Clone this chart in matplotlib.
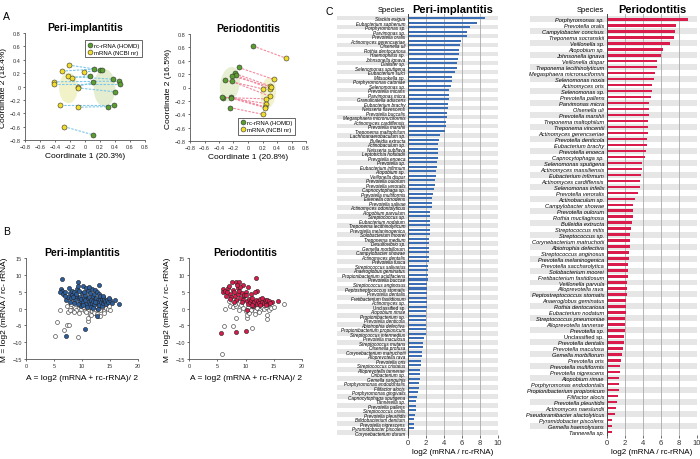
import matplotlib
matplotlib.use("Agg")
import matplotlib.pyplot as plt
import matplotlib.transforms as mtransforms
from matplotlib.patches import Ellipse, Rectangle
from matplotlib.lines import Line2D
import numpy as np

plt.rcParams["font.family"] = ["Liberation Sans", "DejaVu Sans"]

W, H = 700, 460

# ---------------- panel A: PCoA coordinates ----------------
peri_mrna = [(-0.22, 0.32), (-0.31, 0.23), (-0.01, 0.22), (-0.23, 0.15), (-0.18, 0.13),
             (-0.42, 0.07), (-0.42, 0.03), (-0.10, 0.00), (-0.10, -0.02), (-0.33, -0.27),
             (-0.10, -0.31), (-0.28, -0.60)]
peri_rrna = [(0.20, 0.25), (0.12, 0.26), (0.23, 0.24), (0.37, 0.11), (0.06, 0.16),
             (0.45, 0.08), (0.47, 0.03), (0.10, 0.06), (0.40, -0.08), (0.38, -0.27),
             (0.30, -0.30), (0.10, -0.72)]
perio_rrna = [(0.07, 0.62), (-0.13, 0.30), (-0.18, 0.21), (-0.16, 0.18), (-0.22, 0.17),
              (-0.32, 0.11), (-0.22, 0.09), (-0.34, -0.15), (-0.36, -0.14), (-0.24, -0.14),
              (-0.24, -0.16), (-0.25, -0.30)]
perio_mrna = [(0.52, 0.44), (0.36, 0.12), (0.31, 0.02), (0.30, -0.02), (0.32, 0.01),
              (0.20, -0.02), (0.30, -0.13), (0.25, -0.17), (0.25, -0.24), (0.24, -0.29),
              (0.23, -0.30), (0.20, -0.40)]

# ---------------- panel B: MA plot points ----------------
peri_sig = [(6.5, 8.8), (9.3, 7.8), (10.1, 6.7), (13.1, 7.0), (6.2, 5.9), (6.4, 5.3), (6.1, 4.8),
            (6.6, 4.4), (7.0, 5.0), (7.6, 6.0), (7.2, 2.4), (7.5, 3.3), (7.8, 4.6), (8.2, 5.3),
            (8.3, 4.0), (8.5, 4.9), (8.0, 3.0), (8.7, 2.5), (8.9, 3.6), (9.0, 4.3), (9.1, 5.7),
            (9.2, 6.6), (9.4, 3.0), (9.6, 3.4), (9.7, 2.2), (9.9, 2.7), (10.0, 4.6), (10.2, 1.8),
            (10.3, 3.2), (10.5, 4.0), (10.6, 2.4), (10.7, 6.0), (10.8, 1.4), (11.0, 5.2), (11.1, 3.0),
            (11.2, 2.0), (11.3, 3.4), (11.4, 1.2), (11.5, 4.5), (11.6, 2.6), (11.7, 5.8), (11.8, 1.6),
            (11.9, 3.8), (12.0, 2.2), (12.1, 4.3), (12.2, 0.9), (12.3, 5.6), (12.4, 2.9), (12.5, 3.2),
            (12.6, 5.0), (12.7, 1.5), (12.8, 2.4), (12.9, 2.0), (13.0, 4.2), (13.1, 1.0), (13.2, 3.8),
            (13.3, 2.6), (13.4, 1.8), (13.5, 2.8), (13.6, 0.6), (13.7, 3.3), (13.8, 1.6), (13.9, 2.2),
            (14.0, 2.9), (14.1, 2.3), (14.3, 1.4), (14.5, 2.6), (14.7, 1.9), (15.0, 2.4), (15.3, 1.5),
            (15.9, 2.5), (16.6, 1.2), (12.6, -2.2), (10.5, -6.1), (7.2, -8.2), (10.9, 0.3), (11.6, 0.5),
            (9.8, 0.8), (8.6, 1.6), (7.9, 2.0), (10.4, 5.0), (11.9, 0.2), (12.9, -0.2), (9.2, 1.2),
            (13.8, 3.8), (14.8, 3.0), (11.3, 6.4), (10.1, 1.0), (12.4, 1.8), (8.4, 3.3), (9.5, 5.2),
            (6.9, 3.8)]
peri_ns = [(5.2, -8.1), (9.2, -8.4), (5.5, -3.9), (6.7, -6.3), (7.3, -5.0), (7.7, -5.0), (6.1, -0.3),
           (7.5, -0.9), (9.5, -1.2), (11.1, -3.7), (11.1, -2.8), (11.4, -1.6), (12.9, -2.2), (13.2, -2.2),
           (7.9, 0.5), (8.3, -0.3), (8.8, 0.2), (9.0, -0.5), (9.8, -0.2), (10.2, 0.5), (10.6, -0.6),
           (11.0, -0.2), (11.3, 0.4), (11.8, -0.8), (12.1, -0.3), (12.5, 0.6), (12.9, 0.0), (13.3, -0.4),
           (13.6, 0.3), (14.0, -0.6), (14.3, 0.1), (14.6, -0.2), (15.0, -0.5), (12.2, -1.2), (11.6, -1.8),
           (10.0, 1.0), (8.1, 1.3), (9.4, 0.9), (7.3, 0.6), (13.9, -1.2), (12.6, -1.5), (10.8, -0.9),
           (11.9, 1.2), (13.1, 1.0), (14.8, 0.8), (7.8, -0.4), (8.6, -1.0)]
perio_sig = [(11.9, 9.2), (7.6, 7.8), (8.3, 8.0), (8.8, 7.8), (9.6, 7.1), (10.5, 6.3), (6.1, 5.8),
             (6.9, 6.0), (7.8, 5.6), (8.6, 6.0), (6.1, 4.8), (6.3, 5.2), (12.1, 5.3), (15.8, 2.1),
             (14.7, 1.8), (5.6, -7.4), (8.3, -6.9), (10.0, -6.6), (7.2, 4.4), (7.5, 3.4), (7.9, 4.9),
             (8.2, 3.8), (8.4, 2.6), (8.7, 4.4), (8.9, 5.2), (9.1, 3.2), (9.3, 4.6), (9.5, 2.4),
             (9.8, 3.6), (10.0, 5.0), (10.2, 2.2), (10.4, 1.3), (10.6, 2.8), (10.8, 1.8), (11.0, 2.5),
             (11.2, 3.1), (11.3, 1.6), (11.5, 2.0), (11.6, 4.8), (11.8, 2.6), (12.0, 1.4), (12.2, 2.2),
             (12.4, 1.7), (12.6, 2.7), (12.8, 1.2), (13.0, 2.0), (13.2, 1.5), (13.4, 2.6), (13.6, 1.9),
             (13.8, 2.4), (14.0, 1.3), (14.2, 2.2), (14.4, 1.6), (9.0, 6.5), (7.0, 6.8), (6.5, 3.8),
             (9.7, 4.1), (10.9, 4.2), (8.0, 2.0), (11.4, 0.8), (12.6, 0.9), (10.3, -0.4), (7.3, 2.8),
             (6.8, 5.0), (8.5, 7.0), (10.1, 3.9), (12.9, 3.2), (11.1, 1.1), (9.4, 1.8), (13.7, 1.0)]
perio_ns = [(5.9, -13.5), (6.2, -5.2), (7.8, -5.3), (11.2, -5.8), (8.4, -2.9), (10.2, -2.8), (10.2, -1.8),
            (13.8, -2.0), (13.8, -3.0), (16.9, 1.2), (6.4, -0.2), (7.2, 0.7), (7.8, 0.3), (8.4, 0.6),
            (8.8, -0.4), (9.2, 0.9), (9.6, 0.2), (10.0, -0.8), (10.5, 0.4), (10.9, -0.3), (11.3, 0.6),
            (11.7, -0.6), (12.1, 0.2), (12.5, -0.4), (12.9, 0.5), (13.3, -0.2), (13.7, 0.3), (14.1, -0.5),
            (14.5, 0.1), (15.0, 0.3), (10.6, -1.2), (11.6, -1.5), (9.1, 2.2), (8.1, 1.2), (12.4, -1.0),
            (7.0, 2.3), (13.2, 0.9), (11.0, 1.0)]

# ---------------- panel C: log2 ratios per species ----------------
peri_species = [
    "Slackia exigua", "Eubacterium saphenum", "Porphyromonas sp.", "Parvimonas sp.",
    "Prevotella oralis", "Actinomyces gerencseriae", "Olsenella uli", "Rothia dentocariosa",
    "Haemophilus sp.", "Johnsonella ignava", "Dialister sp.", "Selenomonas sputigena",
    "Eubacterium sulci", "Mitsuokella sp.", "Porphyromonas catoniae", "Selenomonas sp.",
    "Prevotella micans", "Parvimonas micra", "Granulicatella adiacens", "Eubacterium brachy",
    "Neisseria flavescens", "Prevotella buccalis", "Megasphaera micronuciformis",
    "Actinomyces cardiffensis", "Prevotella marshii", "Treponema maltophilum",
    "Lachnoanaerobaculum sp.", "Bulleidia extructa", "Actinobaculum sp.", "Neisseria subflava",
    "Leptotrichia hofstadii", "Prevotella enoeca", "Prevotella sp.", "Eubacterium infirmum",
    "Atopobium sp.", "Veillonella dispar", "Prevotella oulorum", "Prevotella veroralis",
    "Capnocytophaga sp.", "Prevotella multiformis", "Eikenella corrodens", "Prevotella salivae",
    "Actinomyces odontolyticus", "Atopobium parvulum", "Streptococcus sp.", "Eubacterium nodatum",
    "Treponema lecithinolyticum", "Prevotella melaninogenica", "Solobacterium moorei",
    "Treponema medium", "Desulfovibrio sp.", "Gemella morbillorum", "Campylobacter showae",
    "Actinomyces dentalis", "Prevotella fusca", "Streptococcus salivarius",
    "Anaeroglobus geminatus", "Propionibacterium acidifaciens", "Prevotella buccae",
    "Streptococcus anginosus", "Peptostreptococcus stomatis", "Prevotella dentalis",
    "Fretibacterium fastidiosum", "Actinomyces sp.", "Unclassified sp.", "Atopobium rimae",
    "Propionibacterium sp.", "Prevotella denticola", "Abiotrophia defectiva",
    "Propionibacterium propionicum", "Streptococcus intermedius", "Prevotella maculosa",
    "Streptococcus mutans", "Olsenella profusa", "Corynebacterium matruchotii",
    "Alloprevotella rava", "Prevotella oris", "Streptococcus cristatus", "Alloprevotella tannerae",
    "Oribacterium sp.", "Gemella sanguinis", "Porphyromonas endodontalis", "Filifactor alocis",
    "Porphyromonas gingivalis", "Capnocytophaga sputigena", "Tannerella sp.", "Prevotella pallens",
    "Streptococcus oralis", "Prevotella pleuritidis", "Bifidobacterium dentium",
    "Prevotella nigrescens", "Pyramidobacter piscolens", "Corynebacterium durum",
]
peri_ratio = [
    8.6, 7.7, 6.9, 6.6, 6.5, 5.9, 5.8, 5.7, 5.67, 5.55, 5.45, 5.4, 5.2, 4.9, 4.9, 4.8,
    4.6, 4.55, 4.5, 4.45, 4.4, 4.37, 4.33, 4.2, 4.2, 4.15, 3.5, 3.4, 3.37, 3.33, 3.3, 3.3,
    3.22, 3.2, 3.1, 3.07, 3.04, 2.96, 2.85, 2.74, 2.67, 2.63, 2.63, 2.48, 2.48, 2.44, 2.44,
    2.44, 2.4, 2.37, 2.37, 2.33, 2.33, 2.3, 2.3, 2.26, 2.22, 2.22, 2.18, 2.15, 2.15, 2.11,
    2.11, 2.07, 2.07, 2.04, 2.04, 2.0, 2.0, 2.0, 1.96, 1.74, 1.67, 1.63, 1.6, 1.52, 1.4,
    1.4, 1.37, 1.3, 1.3, 1.22, 1.18, 1.07, 1.04, 0.9, 0.85, 0.85, 0.74, 0.7, 0.67, 0.63, 0.15,
]
perio_species = [
    "Porphyromonas sp.", "Prevotella oralis", "Campylobacter concisus", "Treponema socranskii",
    "Veillonella sp.", "Atopobium sp.", "Johnsonella ignava", "Veillonella dispar",
    "Treponema lecithinolyticum", "Megasphaera micronuciformis", "Selenomonas noxia",
    "Actinomyces oris", "Selenomonas sp.", "Prevotella pallens", "Parvimonas micra",
    "Olsenella uli", "Prevotella marshii", "Treponema maltophilum", "Treponema vincentii",
    "Actinomyces gerencseriae", "Prevotella denticola", "Eubacterium brachy", "Prevotella enoeca",
    "Capnocytophaga sp.", "Selenomonas sputigena", "Actinomyces massiliensis",
    "Eubacterium infirmum", "Actinomyces cardiffensis", "Selenomonas infelix",
    "Prevotella veroralis", "Actinobaculum sp.", "Campylobacter showae", "Prevotella oulorum",
    "Rothia mucilaginosa", "Bulleidia extructa", "Streptococcus mitis", "Streptococcus sp.",
    "Corynebacterium matruchotii", "Abiotrophia defectiva", "Streptococcus anginosus",
    "Prevotella melaninogenica", "Prevotella saccharolytica", "Solobacterium moorei",
    "Fretibacterium fastidiosum", "Veillonella parvula", "Alloprevotella rava",
    "Peptostreptococcus stomatis", "Anaeroglobus geminatus", "Rothia dentocariosa",
    "Eubacterium nodatum", "Streptococcus pneumoniae", "Alloprevotella tannerae", "Prevotella sp.",
    "Unclassified sp.", "Prevotella dentalis", "Prevotella maculosa", "Gemella morbillorum",
    "Prevotella oris", "Prevotella multiformis", "Prevotella nigrescens", "Atopobium rimae",
    "Porphyromonas endodontalis", "Propionibacterium propionicum", "Filifactor alocis",
    "Prevotella pleuritidis", "Actinomyces naeslundii", "Pseudoramibacter alactolyticus",
    "Pyramidobacter piscolens", "Gemella haemolysans", "Tannerella sp.",
]
perio_ratio = [
    9.04, 7.7, 7.6, 7.48, 7.0, 6.22, 6.04, 5.6, 5.52, 5.33, 5.26, 5.0, 4.96, 4.85, 4.7,
    4.63, 4.63, 4.6, 4.56, 4.56, 4.48, 4.4, 4.37, 4.22, 3.9, 3.85, 3.8, 3.7, 3.63, 3.48,
    3.1, 2.93, 2.93, 2.89, 2.74, 2.7, 2.6, 2.56, 2.52, 2.44, 2.4, 2.37, 2.33, 2.3, 2.26,
    2.26, 2.22, 2.15, 2.1, 2.07, 2.04, 2.0, 1.96, 1.93, 1.85, 1.81, 1.7, 1.6, 1.44, 1.4,
    1.33, 1.3, 1.3, 1.22, 1.1, 1.0, 0.93, 0.6, 0.56, 0.52,
]

GREEN = "#5a9e2f"
YELLOW = "#f0dc2a"
BLUE = "#2c5d9c"
RED = "#d91c4c"


def box(l, t, r, b):
    return [l / W, 1 - b / H, (r - l) / W, (b - t) / H]


def style_small(ax, fs=4):
    for s in ("top", "right"):
        ax.spines[s].set_visible(False)
    for s in ("left", "bottom"):
        ax.spines[s].set_color("#555555")
        ax.spines[s].set_linewidth(0.6)
    ax.tick_params(labelsize=fs, length=1.5, width=0.5, pad=1.5, colors="#333333")


def pcoa(ax, title, green_pts, yellow_pts, pairs, line_color, ellipses, xlabel, ylabel,
         legend_loc, anchor):
    for e in ellipses:
        ax.add_patch(Ellipse(e[0], e[1], e[2], angle=e[3], facecolor=e[4], edgecolor="none",
                             alpha=0.75, zorder=0))
    for a, b in pairs:
        ax.plot([a[0], b[0]], [a[1], b[1]], ls=(0, (2.2, 1.2)), lw=0.8, color=line_color, zorder=1)
    g = np.array(green_pts)
    y = np.array(yellow_pts)
    ax.scatter(g[:, 0], g[:, 1], s=13, c=GREEN, edgecolors="#333333", linewidths=0.4, zorder=3)
    ax.scatter(y[:, 0], y[:, 1], s=13, c=YELLOW, edgecolors="#333333", linewidths=0.4, zorder=3)
    ax.set_xlim(-0.8, 0.8)
    ax.set_ylim(-0.8, 0.8)
    ticks = np.arange(-0.8, 0.81, 0.2)
    ax.set_xticks(ticks)
    ax.set_yticks(ticks)
    lab = ["0" if abs(t) < 1e-9 else f"{t:.1f}".replace("-", "\u2212") for t in ticks]
    ax.set_xticklabels(lab)
    ax.set_yticklabels(lab)
    style_small(ax)
    ax.set_title(title, fontsize=7.5, fontweight="bold", pad=2)
    ax.set_xlabel(xlabel, fontsize=6, labelpad=2)
    ax.set_ylabel(ylabel, fontsize=6, labelpad=2)
    handles = [Line2D([], [], ls="none", marker="o", ms=3.5, mfc=GREEN, mec="#333333", mew=0.4),
               Line2D([], [], ls="none", marker="o", ms=3.5, mfc=YELLOW, mec="#333333", mew=0.4)]
    leg = ax.legend(handles, ["rc-rRNA (HOMD)", "mRNA (NCBI nr)"], loc=legend_loc,
                    bbox_to_anchor=anchor, fontsize=4.3, frameon=True, fancybox=False,
                    handletextpad=0.2, borderpad=0.4, labelspacing=0.35, handlelength=1.0)
    leg.get_frame().set_edgecolor("#222222")
    leg.get_frame().set_linewidth(0.6)


def maplot(ax, title, sig, ns, color):
    n = np.array(ns)
    s = np.array(sig)
    ax.scatter(n[:, 0], n[:, 1], s=8, facecolors="white", edgecolors="#444444", linewidths=0.45,
               zorder=2)
    ax.scatter(s[:, 0], s[:, 1], s=9, c=color, edgecolors="#222222", linewidths=0.4, zorder=3)
    ax.set_xlim(0, 20)
    ax.set_ylim(-15, 15)
    ax.set_xticks([0, 5, 10, 15, 20])
    ax.set_yticks([-15, -10, -5, 0, 5, 10, 15])
    ax.set_yticklabels([str(v).replace("-", "\u2212") for v in [-15, -10, -5, 0, 5, 10, 15]])
    style_small(ax)
    ax.set_title(title, fontsize=7.5, fontweight="bold", pad=2.5)
    ax.set_xlabel("A = log2 (mRNA + rc-rRNA)/ 2", fontsize=6, labelpad=4)
    ax.set_ylabel("M = log2 (mRNA / rc- rRNA)", fontsize=6, labelpad=3)


def ranking(ax, title, species, values, color, label_fs, band_left, bar_h):
    n = len(species)
    pos = np.arange(n)
    trans = mtransforms.blended_transform_factory(ax.transAxes, ax.transData)
    for i in range(0, n, 2):
        ax.add_patch(Rectangle((band_left, i - 0.5), 1 - band_left, 1, transform=trans,
                               facecolor="#e6e6e6", edgecolor="none", clip_on=False, zorder=0))
    for gx in (2, 4, 6, 8, 10):
        ax.axvline(gx, color="#aaaaaa", lw=0.6, zorder=1)
    ax.barh(pos, values, height=bar_h, color=color, zorder=2)
    ax.set_xlim(0, 10)
    ax.set_ylim(n - 0.5, -0.9)
    ax.set_yticks(pos)
    ax.set_yticklabels(species, fontsize=label_fs)
    for t in ax.get_yticklabels():
        if not t.get_text().startswith("Unclassified"):
            t.set_fontstyle("italic")
    ax.tick_params(axis="y", length=0, pad=2)
    ax.set_xticks([0, 2, 4, 6, 8, 10])
    ax.tick_params(axis="x", labelsize=5.5, length=2, width=0.5, pad=1, colors="#333333")
    for s in ("top", "right", "bottom"):
        ax.spines[s].set_visible(False)
    ax.spines["left"].set_color("#444444")
    ax.spines["left"].set_linewidth(0.7)
    ax.spines["left"].set_zorder(3)
    ax.set_xlabel("log2 (mRNA / rc-rRNA)", fontsize=5.8, labelpad=1)
    ax.set_title(title, fontsize=8, fontweight="bold", pad=1.5)
    ax.text(-0.03, 1.002, "Species", transform=ax.transAxes, ha="right", va="bottom", fontsize=5.5)


fig = plt.figure(figsize=(7, 4.6), dpi=100)
fig.patch.set_facecolor("white")

# panel A
ax = fig.add_axes(box(25, 34, 145, 141))
pcoa(ax, "Peri-implantitis", peri_rrna, peri_mrna, list(zip(peri_mrna, peri_rrna)), "#7ec8ea",
     [((-0.22, -0.02), 0.25, 0.46, 0, "#eeeeb8"), ((0.26, -0.02), 0.29, 0.56, 0, "#dce8c0")],
     "Coordinate 1 (20.3%)", "Coordinate 2 (18.4%)", "upper right", (1.0, 0.96))
ax = fig.add_axes(box(190, 35, 306, 142))
pcoa(ax, "Periodontitis", perio_rrna, perio_mrna, list(zip(perio_rrna, perio_mrna)), "#f28aa0",
     [((-0.25, 0.05), 0.27, 0.52, -8, "#dfeac4"), ((0.28, -0.08), 0.21, 0.47, -5, "#eeeebc")],
     "Coordinate 1 (20.8%)", "Coordinate 2 (16.5%)", "lower right", (0.93, 0.03))

# panel B
ax = fig.add_axes(box(26, 259, 138, 360))
maplot(ax, "Peri-implantitis", peri_sig, peri_ns, BLUE)
ax = fig.add_axes(box(189, 259, 302, 360))
maplot(ax, "Periodontitis", perio_sig, perio_ns, RED)

# panel C
ax = fig.add_axes(box(408, 15, 498, 436))
ranking(ax, "Peri-implantitis", peri_species, peri_ratio, "#3a6db3", 3.3, -0.79, 0.45)
ax = fig.add_axes(box(607, 15, 697, 436))
ranking(ax, "Periodontitis", perio_species, perio_ratio, RED, 4.1, -0.86, 0.42)

fig.text(3 / W, 1 - 17 / H, "A", fontsize=7.5, ha="left", va="center")
fig.text(3 / W, 1 - 232 / H, "B", fontsize=7.5, ha="left", va="center")
fig.text(325 / W, 1 - 12 / H, "C", fontsize=7.5, ha="left", va="center")

fig.savefig("out.png", dpi=100, facecolor="white")
